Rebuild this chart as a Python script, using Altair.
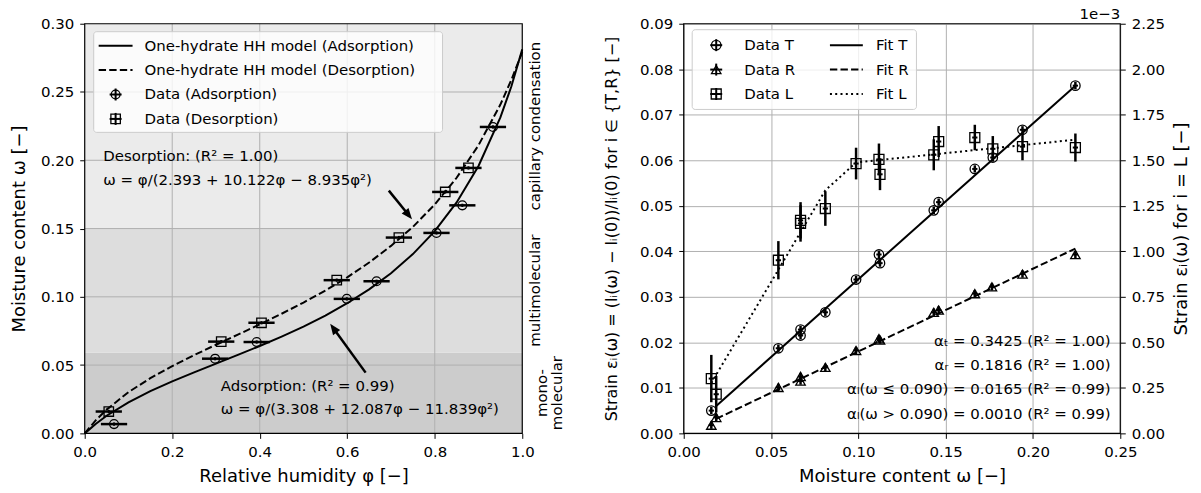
import math
import altair as alt
import pandas as pd

FONT = "DejaVu Sans"
W1, W2, H = 439, 438, 411

# ================= left panel data (sorption isotherm) =================
phi_ads = [0.067, 0.298, 0.393, 0.599, 0.667, 0.804, 0.863, 0.933]
w_ads = [0.0068, 0.0547, 0.0669, 0.0985, 0.1114, 0.1468, 0.1670, 0.2244]
phi_des = [0.055, 0.312, 0.404, 0.576, 0.718, 0.824, 0.877]
w_des = [0.0160, 0.0672, 0.0810, 0.1122, 0.1434, 0.1768, 0.1944]
phi_err = 0.03
w_err = 0.0012

phi_model = [0.0, 0.025, 0.05, 0.10, 0.15, 0.20, 0.25, 0.30, 0.35, 0.40, 0.45, 0.50,
             0.55, 0.60, 0.65, 0.70, 0.75, 0.80, 0.85, 0.90, 0.95, 0.975, 1.0]
w_model_ads = [0.0, 0.0069, 0.0129, 0.0227, 0.0309, 0.0381, 0.0447, 0.0511, 0.0575, 0.0640,
               0.0709, 0.0782, 0.0863, 0.0953, 0.1055, 0.1173, 0.1313, 0.1481, 0.1691,
               0.1958, 0.2314, 0.2540, 0.2812]
w_model_des = [0.0, 0.0095, 0.0174, 0.0302, 0.0404, 0.0493, 0.0573, 0.0649, 0.0723, 0.0798,
               0.0876, 0.0958, 0.1046, 0.1143, 0.1251, 0.1373, 0.1512, 0.1676, 0.1872,
               0.2110, 0.2408, 0.2588, 0.2793]

band_names = ["mono", "multi", "capillary"]
band_labels = ["mono-\nmolecular", "multimolecular", "capillary condensation"]
band_lo = [0.0, 0.059, 0.15]
band_hi = [0.059, 0.15, 0.30]

x_ticks_left = [0.0, 0.2, 0.4, 0.6, 0.8, 1.0]
y_ticks_left = [0.0, 0.05, 0.10, 0.15, 0.20, 0.25, 0.30]

des_text = ["Desorption: (R² = 1.00)", "ω = φ/(2.393 + 10.122φ − 8.935φ²)"]
des_text_x = [0.0425, 0.0425]
des_text_y = [0.2034, 0.1859]
ads_text = ["Adsorption: (R² = 0.99)", "ω = φ/(3.308 + 12.087φ − 11.839φ²)"]
ads_text_x = [0.311, 0.311]
ads_text_y = [0.0348, 0.0178]
arrow_des = [(0.695, 0.1778), (0.748, 0.1568)]
arrow_ads = [(0.642, 0.0445), (0.561, 0.0803)]

# ================= right panel data (swelling strain) =================
w_T = [0.0158, 0.0542, 0.0669, 0.0669, 0.0811, 0.0987, 0.1118, 0.1124, 0.1432, 0.1460,
       0.1667, 0.1770, 0.1940, 0.2243]
s_T = [0.0050, 0.0187, 0.0228, 0.0215, 0.0266, 0.0338, 0.0393, 0.0374, 0.0490, 0.0508,
       0.0581, 0.0606, 0.0667, 0.0764]
w_R = [0.0158, 0.0186, 0.0542, 0.0669, 0.0669, 0.0811, 0.0987, 0.1118, 0.1124, 0.1432,
       0.1460, 0.1667, 0.1765, 0.1940, 0.2243]
s_R = [0.0018, 0.0035, 0.0101, 0.0125, 0.0115, 0.0145, 0.0182, 0.0208, 0.0205, 0.0266,
       0.0271, 0.0307, 0.0322, 0.0350, 0.0393]
w_L = [0.0158, 0.0186, 0.0542, 0.0669, 0.0669, 0.0811, 0.0987, 0.1118, 0.1124, 0.1432,
       0.1460, 0.1667, 0.1770, 0.1940, 0.2243]
s_L = [0.301, 0.215, 0.951, 1.153, 1.170, 1.235, 1.482, 1.505, 1.423, 1.530, 1.603,
       1.625, 1.563, 1.575, 1.570]  # x 1e-3
err_L = [0.13, 0.10, 0.105, 0.10, 0.10, 0.095, 0.087, 0.087, 0.087, 0.085, 0.085,
         0.07, 0.07, 0.075, 0.077]
s_err_TR = 0.0008
w_err_all = 0.0015

fitT_w = [0.0186, 0.2243]
fitT_s = [0.0060, 0.0764]
fitR_w = [0.0186, 0.2243]
fitR_s = [0.0032, 0.0406]
fitL_w = [0.0158, 0.0186, 0.0542, 0.0669, 0.0811, 0.0987, 0.1118, 0.1432, 0.1460, 0.1667,
          0.1770, 0.1940, 0.2243]
fitL_s = [0.277, 0.322, 0.899, 1.105, 1.335, 1.488, 1.501, 1.532, 1.535, 1.556, 1.566,
          1.583, 1.613]

x_ticks_right = [0.0, 0.05, 0.10, 0.15, 0.20, 0.25]
y_ticks_right_left = [0.0, 0.01, 0.02, 0.03, 0.04, 0.05, 0.06, 0.07, 0.08, 0.09]
y_ticks_right_right = [0.0, 0.25, 0.5, 0.75, 1.0, 1.25, 1.5, 1.75, 2.0, 2.25]

alpha_text = ["αₜ = 0.3425 (R² = 1.00)", "αᵣ = 0.1816 (R² = 1.00)",
              "αₗ(ω ≤ 0.090) = 0.0165 (R² = 0.99)", "αₗ(ω > 0.090) = 0.0010 (R² = 0.99)"]
alpha_x = [0.2445, 0.2445, 0.2445, 0.2445]
alpha_y = [0.0203, 0.0150, 0.0097, 0.0042]

# ================= helpers =================
ARROW = "M0,0L-0.4,1L0.4,1Z"


def one():
    return alt.Chart(pd.DataFrame({"k": [0]}))


def px_hline(x1, x2, y, dash=None, w=2.0):
    kw = dict(color="black", strokeWidth=w, strokeCap="butt")
    if dash:
        kw["strokeDash"] = dash
    return one().mark_rule(**kw).encode(x=alt.value(x1), x2=alt.value(x2), y=alt.value(y))


def px_vline(x, y1, y2, w=2.0):
    return one().mark_rule(color="black", strokeWidth=w, strokeCap="butt").encode(
        x=alt.value(x), y=alt.value(y1), y2=alt.value(y2))


def px_point(x, y, shape, size):
    return one().mark_point(shape=shape, filled=False, color="black", strokeWidth=1.3,
                            size=size, opacity=1).encode(x=alt.value(x), y=alt.value(y))


def px_text(x, y, s, align="left", size=15):
    return one().mark_text(text=s, align=align, baseline="middle", font=FONT, fontSize=size,
                           color="black").encode(x=alt.value(x), y=alt.value(y))


def px_box(x1, x2, y1, y2):
    return one().mark_rect(fill="white", fillOpacity=0.8, stroke="#cccccc", strokeWidth=1,
                           cornerRadius=3).encode(
        x=alt.value(x1), x2=alt.value(x2), y=alt.value(y1), y2=alt.value(y2))


def frame(w, h):
    return one().mark_rect(fill="white", fillOpacity=0, stroke="black", strokeWidth=1.2).encode(
        x=alt.value(0), x2=alt.value(w), y=alt.value(0), y2=alt.value(h))


def marker_with_cross(x, y, shape, size, arm=6):
    return [px_hline(x - arm, x + arm, y, w=2.0), px_vline(x, y - arm, y + arm, w=2.0),
            px_point(x, y, shape, size)]


# ================= left panel =================
xs1 = alt.Scale(domain=[0, 1], nice=False, zero=False)
ys1 = alt.Scale(domain=[0, 0.30], nice=False, zero=False)
ax1 = alt.Axis(title="Relative humidity φ [−]", values=x_ticks_left, format=".1f", grid=False,
               titlePadding=8)
ay1 = alt.Axis(title="Moisture content ω [−]", values=y_ticks_left, format=".2f", grid=False,
               titlePadding=12)


def X1(f):
    return alt.X(f, type="quantitative", scale=xs1, axis=ax1)


def Y1(f):
    return alt.Y(f, type="quantitative", scale=ys1, axis=ay1)


bands = pd.DataFrame({"name": band_names, "label": band_labels, "lo": band_lo, "hi": band_hi})
bands["mid"] = (bands["lo"] + bands["hi"]) / 2

band_layer = alt.Chart(bands).mark_rect().encode(
    x=alt.value(0), x2=alt.value(W1), y=Y1("lo"), y2=alt.Y2("hi"),
    color=alt.Color("name:N", scale=alt.Scale(domain=band_names,
                                              range=["#cccccc", "#dddddd", "#ebebeb"]),
                    legend=None))

gx = pd.DataFrame({"g": x_ticks_left[1:-1]})
gy = pd.DataFrame({"g": y_ticks_left[1:-1]})
grid_v = alt.Chart(gx).mark_rule(color="#b0b0b0", strokeWidth=1).encode(
    x=X1("g"), y=alt.value(0), y2=alt.value(H))
grid_h = alt.Chart(gy).mark_rule(color="#b0b0b0", strokeWidth=1).encode(
    y=Y1("g"), x=alt.value(0), x2=alt.value(W1))

model = pd.DataFrame({"phi": phi_model, "ads": w_model_ads, "des": w_model_des})
line_ads = alt.Chart(model).mark_line(color="black", strokeWidth=2).encode(x=X1("phi"), y=Y1("ads"))
line_des = alt.Chart(model).mark_line(color="black", strokeWidth=2, strokeDash=[7.4, 3.2]).encode(
    x=X1("phi"), y=Y1("des"))


def iso_points(phi, w, shape, size):
    d = pd.DataFrame({"phi": phi, "w": w})
    d["plo"] = d["phi"] - phi_err
    d["phi_hi"] = d["phi"] + phi_err
    d["wlo"] = d["w"] - w_err
    d["whi"] = d["w"] + w_err
    eh = alt.Chart(d).mark_rule(color="black", strokeWidth=2.5).encode(
        x=X1("plo"), x2=alt.X2("phi_hi"), y=Y1("w"))
    ev = alt.Chart(d).mark_rule(color="black", strokeWidth=2).encode(
        x=X1("phi"), y=Y1("wlo"), y2=alt.Y2("whi"))
    pt = alt.Chart(d).mark_point(shape=shape, filled=False, color="black", strokeWidth=1.3,
                                 size=size, opacity=1).encode(x=X1("phi"), y=Y1("w"))
    return [eh, ev, pt]


def arrow(tail, head, xdom, ydom, W, X, Y):
    dxp = (head[0] - tail[0]) / (xdom[1] - xdom[0]) * W
    dyp = -(head[1] - tail[1]) / (ydom[1] - ydom[0]) * H
    L = math.hypot(dxp, dyp)
    ux, uy = dxp / L, dyp / L
    back = 8
    end = (head[0] - ux * back * (xdom[1] - xdom[0]) / W,
           head[1] + uy * back * (ydom[1] - ydom[0]) / H)
    ang = (math.degrees(math.atan2(dyp, dxp)) + 90) % 360
    seg = pd.DataFrame({"x": [tail[0]], "y": [tail[1]], "xe": [end[0]], "ye": [end[1]]})
    tip = pd.DataFrame({"x": [head[0]], "y": [head[1]]})
    shaft = alt.Chart(seg).mark_rule(color="black", strokeWidth=2.5).encode(
        x=X("x"), y=Y("y"), x2=alt.X2("xe"), y2=alt.Y2("ye"))
    hd = alt.Chart(tip).mark_point(shape=ARROW, filled=True, color="black", size=484,
                                   angle=ang, opacity=1, strokeWidth=0).encode(x=X("x"), y=Y("y"))
    return [shaft, hd]


def text_block(xs, ys, ts, X, Y, align):
    d = pd.DataFrame({"x": xs, "y": ys, "t": ts})
    return alt.Chart(d).mark_text(align=align, baseline="middle", font=FONT, fontSize=15,
                                  color="black").encode(x=X("x"), y=Y("y"), text="t:N")


band_text_single = alt.Chart(bands[bands["name"] != "mono"]).mark_text(
    angle=270, align="center", baseline="middle", font=FONT, fontSize=15, color="black").encode(
    x=alt.value(W1 + 13), y=Y1("mid"), text="label:N")
band_text_mono = alt.Chart(bands[bands["name"] == "mono"]).mark_text(
    angle=270, align="center", baseline="middle", font=FONT, fontSize=15, color="black",
    lineBreak="\n", lineHeight=15).encode(
    x=alt.value(W1 + 20), y=Y1("mid"), text="label:N")

leg1 = [px_box(9, 359, 8, 109),
        px_hline(14, 48, 22), px_text(60, 22, "One-hydrate HH model (Adsorption)"),
        px_hline(14, 48, 46.5, dash=[7.4, 3.2]), px_text(60, 46.5, "One-hydrate HH model (Desorption)")]
leg1 += marker_with_cross(31, 71, "circle", 78) + [px_text(60, 71, "Data (Adsorption)")]
leg1 += marker_with_cross(31, 95.5, "square", 90) + [px_text(60, 95.5, "Data (Desorption)")]

left_layers = [band_layer, grid_v, grid_h, line_ads, line_des]
left_layers += iso_points(phi_ads, w_ads, "circle", 78)
left_layers += iso_points(phi_des, w_des, "square", 90)
left_layers += leg1
left_layers += [text_block(des_text_x, des_text_y, des_text, X1, Y1, "left"),
                text_block(ads_text_x, ads_text_y, ads_text, X1, Y1, "left")]
left_layers += arrow(arrow_des[0], arrow_des[1], [0, 1], [0, 0.30], W1, X1, Y1)
left_layers += arrow(arrow_ads[0], arrow_ads[1], [0, 1], [0, 0.30], W1, X1, Y1)
left_layers += [band_text_single, band_text_mono, frame(W1, H)]

left = alt.layer(*left_layers).properties(width=W1, height=H)

# ================= right panel =================
xs2 = alt.Scale(domain=[0, 0.25], nice=False, zero=False)
ysA = alt.Scale(domain=[0, 0.09], nice=False, zero=False)
ysB = alt.Scale(domain=[0, 2.25], nice=False, zero=False)
ax2 = alt.Axis(title="Moisture content ω [−]", values=x_ticks_right, format=".2f", grid=True,
               titlePadding=8)
ayA = alt.Axis(title="Strain εᵢ(ω) = (lᵢ(ω) − lᵢ(0))/lᵢ(0)  for  i ∈ {T,R} [−]",
               values=y_ticks_right_left, format=".2f", grid=True, titlePadding=20,
               titleFontSize=16, titleLimit=480)
ayB = alt.Axis(title="Strain εᵢ(ω)  for  i = L [−]", orient="right",
               values=y_ticks_right_right, format=".2f", grid=False, titlePadding=8,
               titleAngle=270, titleBaseline="top")


def X2(f):
    return alt.X(f, type="quantitative", scale=xs2, axis=ax2)


def YA(f):
    return alt.Y(f, type="quantitative", scale=ysA, axis=ayA)


def YB(f):
    return alt.Y(f, type="quantitative", scale=ysB, axis=ayB)


def strain_points(w, s, serr, shape, size, Y):
    d = pd.DataFrame({"w": w, "s": s, "e": serr})
    d["wl"] = d["w"] - w_err_all
    d["wh"] = d["w"] + w_err_all
    d["sl"] = d["s"] - d["e"]
    d["sh"] = d["s"] + d["e"]
    ev = alt.Chart(d).mark_rule(color="black", strokeWidth=2.5).encode(
        x=X2("w"), y=Y("sl"), y2=alt.Y2("sh"))
    eh = alt.Chart(d).mark_rule(color="black", strokeWidth=2).encode(
        x=X2("wl"), x2=alt.X2("wh"), y=Y("s"))
    pt = alt.Chart(d).mark_point(shape=shape, filled=False, color="black", strokeWidth=1.3,
                                 size=size, opacity=1).encode(x=X2("w"), y=Y("s"))
    return [ev, eh, pt]


fitT = pd.DataFrame({"w": fitT_w, "s": fitT_s})
fitR = pd.DataFrame({"w": fitR_w, "s": fitR_s})
fitL = pd.DataFrame({"w": fitL_w, "s": fitL_s})

A_layers = [
    alt.Chart(fitT).mark_line(color="black", strokeWidth=2).encode(x=X2("w"), y=YA("s")),
    alt.Chart(fitR).mark_line(color="black", strokeWidth=2, strokeDash=[7.4, 3.2]).encode(
        x=X2("w"), y=YA("s")),
]
A_layers += strain_points(w_T, s_T, [s_err_TR] * len(w_T), "circle", 90, YA)
A_layers += strain_points(w_R, s_R, [s_err_TR] * len(w_R), "triangle-up", 90, YA)
A_layers += [text_block(alpha_x, alpha_y, alpha_text, X2, YA, "right")]

B_layers = [alt.Chart(fitL).mark_line(color="black", strokeWidth=2, strokeDash=[2, 3.3]).encode(
    x=X2("w"), y=YB("s"))]
B_layers += strain_points(w_L, s_L, err_L, "square", 100, YB)

leg2 = [px_box(8.5, 233.5, 6, 86)]
leg2 += marker_with_cross(32.6, 21.5, "circle", 90) + [px_text(60.7, 21.5, "Data T")]
leg2 += marker_with_cross(32.6, 46, "triangle-up", 90) + [px_text(60.7, 46, "Data R")]
leg2 += marker_with_cross(32.6, 70.5, "square", 100) + [px_text(60.7, 70.5, "Data L")]
leg2 += [px_hline(146.7, 179.7, 21.5), px_text(192.8, 21.5, "Fit T"),
         px_hline(146.7, 179.7, 46, dash=[7.4, 3.2]), px_text(192.8, 46, "Fit R"),
         px_hline(146.7, 179.7, 70.5, dash=[2, 3.3]), px_text(192.8, 70.5, "Fit L")]
leg2 += [frame(W2, H),
         one().mark_text(text="1e−3", align="right", baseline="alphabetic", font=FONT,
                         fontSize=15, color="black").encode(x=alt.value(W2), y=alt.value(-5))]

A = alt.layer(*A_layers)
B = alt.layer(*B_layers)
right = alt.layer(A, B, alt.layer(*leg2)).resolve_scale(y="independent").properties(width=W2, height=H)

chart = alt.hconcat(left, right, spacing=162, bounds="flush").properties(
    padding={"left": 10, "top": 6, "right": 10, "bottom": 3}
).configure_axis(
    labelFont=FONT, titleFont=FONT, labelFontSize=15, titleFontSize=18, titleFontWeight="normal",
    labelColor="black", titleColor="black", tickColor="black", tickSize=5, tickWidth=1,
    domain=False, labelPadding=6, labelFlush=False, labelOverlap=False,
    gridColor="#b0b0b0", gridWidth=1
).configure_view(strokeWidth=0)

chart.save("out.html", embed_options={"renderer": "svg", "actions": False})
